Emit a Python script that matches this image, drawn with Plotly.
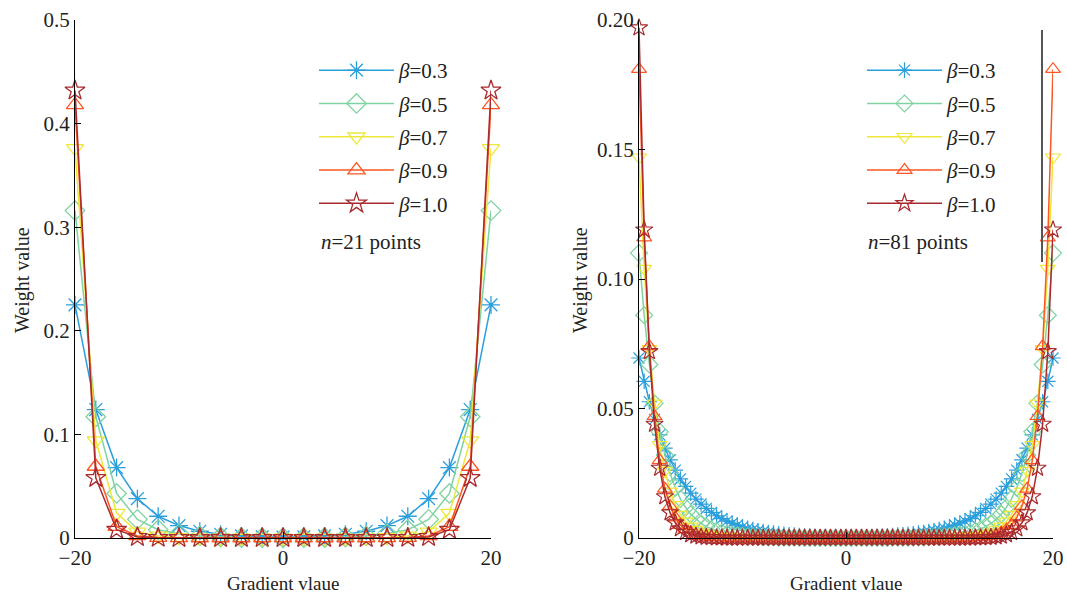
import plotly.graph_objects as go

W, H = 1067, 594

betas = ["0.3", "0.5", "0.7", "0.9", "1.0"]
colors = ["#2a9fdc", "#7fd3a0", "#ece83a", "#ff5522", "#a82a2e"]
symbols = ["asterisk-open", "diamond-open", "triangle-down-open", "triangle-up-open", "star-open"]

# ---- left panel: n = 21 points ----
x21 = [-20, -18, -16, -14, -12, -10, -8, -6, -4, -2, 0, 2, 4, 6, 8, 10, 12, 14, 16, 18, 20]
w21_03 = [0.225, 0.124, 0.068, 0.038, 0.021, 0.012, 0.0065, 0.0036, 0.002, 0.0011, 0.0008,
          0.0011, 0.002, 0.0036, 0.0065, 0.012, 0.021, 0.038, 0.068, 0.124, 0.225]
w21_05 = [0.316, 0.117, 0.043, 0.018, 0.008, 0.004, 0.002, 0.001, 0.0005, 0.0003, 0.0002,
          0.0003, 0.0005, 0.001, 0.002, 0.004, 0.008, 0.018, 0.043, 0.117, 0.316]
w21_07 = [0.376, 0.094, 0.024, 0.006, 0.002, 0.0006, 0.0002, 0.0001, 0.0, 0.0, 0.0,
          0.0, 0.0, 0.0001, 0.0002, 0.0006, 0.002, 0.006, 0.024, 0.094, 0.376]
w21_09 = [0.418, 0.069, 0.011, 0.002, 0.0004, 0.0001, 0.0, 0.0, 0.0, 0.0, 0.0,
          0.0, 0.0, 0.0, 0.0, 0.0001, 0.0004, 0.002, 0.011, 0.069, 0.418]
w21_10 = [0.432, 0.058, 0.008, 0.001, 0.0002, 0.0, 0.0, 0.0, 0.0, 0.0, 0.0,
          0.0, 0.0, 0.0, 0.0, 0.0, 0.0002, 0.001, 0.008, 0.058, 0.432]

# ---- right panel: n = 81 points ----
x81 = [-20.0, -19.5, -19.0, -18.5, -18.0, -17.5, -17.0, -16.5, -16.0, -15.5,
       -15.0, -14.5, -14.0, -13.5, -13.0, -12.5, -12.0, -11.5, -11.0, -10.5,
       -10.0, -9.5, -9.0, -8.5, -8.0, -7.5, -7.0, -6.5, -6.0, -5.5,
       -5.0, -4.5, -4.0, -3.5, -3.0, -2.5, -2.0, -1.5, -1.0, -0.5,
       0.0,
       0.5, 1.0, 1.5, 2.0, 2.5, 3.0, 3.5, 4.0, 4.5, 5.0,
       5.5, 6.0, 6.5, 7.0, 7.5, 8.0, 8.5, 9.0, 9.5, 10.0,
       10.5, 11.0, 11.5, 12.0, 12.5, 13.0, 13.5, 14.0, 14.5, 15.0,
       15.5, 16.0, 16.5, 17.0, 17.5, 18.0, 18.5, 19.0, 19.5, 20.0]
w81_03 = [0.0695, 0.0605, 0.0526, 0.0458, 0.0398, 0.0347, 0.0302, 0.0262, 0.0228, 0.0199,
          0.0173, 0.0150, 0.0131, 0.0114, 0.0099, 0.0086, 0.0075, 0.0065, 0.0057, 0.0050,
          0.0043, 0.0037, 0.0033, 0.0028, 0.0025, 0.0021, 0.0019, 0.0016, 0.0014, 0.0012,
          0.0011, 0.0009, 0.0008, 0.0007, 0.0006, 0.0005, 0.0005, 0.0004, 0.0004, 0.0003,
          0.0003,
          0.0003, 0.0004, 0.0004, 0.0005, 0.0005, 0.0006, 0.0007, 0.0008, 0.0009, 0.0011,
          0.0012, 0.0014, 0.0016, 0.0019, 0.0021, 0.0025, 0.0028, 0.0033, 0.0037, 0.0043,
          0.0050, 0.0057, 0.0065, 0.0075, 0.0086, 0.0099, 0.0114, 0.0131, 0.0150, 0.0173,
          0.0199, 0.0228, 0.0262, 0.0302, 0.0347, 0.0398, 0.0458, 0.0526, 0.0605, 0.0695]
w81_05 = [0.110, 0.086, 0.067, 0.052, 0.041, 0.032, 0.025, 0.0194, 0.0151, 0.0118,
          0.0092, 0.0072, 0.0056, 0.0044, 0.0034, 0.0027, 0.0021, 0.0016, 0.0013, 0.0010,
          0.0008, 0.0006, 0.0005, 0.0004, 0.0003, 0.0002, 0.0002, 0.0001, 0.0001, 0.0001,
          0.0001, 0.0001, 0.0, 0.0, 0.0, 0.0, 0.0, 0.0, 0.0, 0.0,
          0.0,
          0.0, 0.0, 0.0, 0.0, 0.0, 0.0, 0.0, 0.0, 0.0001, 0.0001,
          0.0001, 0.0001, 0.0001, 0.0002, 0.0002, 0.0003, 0.0004, 0.0005, 0.0006, 0.0008,
          0.0010, 0.0013, 0.0016, 0.0021, 0.0027, 0.0034, 0.0044, 0.0056, 0.0072, 0.0092,
          0.0118, 0.0151, 0.0194, 0.025, 0.032, 0.041, 0.052, 0.067, 0.086, 0.110]
w81_07 = [0.147, 0.104, 0.073, 0.052, 0.036, 0.026, 0.018, 0.0128, 0.0090, 0.0064,
          0.0045, 0.0032, 0.0022, 0.0016, 0.0011, 0.0008, 0.0006, 0.0004, 0.0003, 0.0002,
          0.0001, 0.0001, 0.0001, 0.0, 0.0, 0.0, 0.0, 0.0, 0.0, 0.0,
          0.0, 0.0, 0.0, 0.0, 0.0, 0.0, 0.0, 0.0, 0.0, 0.0,
          0.0,
          0.0, 0.0, 0.0, 0.0, 0.0, 0.0, 0.0, 0.0, 0.0, 0.0,
          0.0, 0.0, 0.0, 0.0, 0.0, 0.0, 0.0, 0.0001, 0.0001, 0.0001,
          0.0002, 0.0003, 0.0004, 0.0006, 0.0008, 0.0011, 0.0016, 0.0022, 0.0032, 0.0045,
          0.0064, 0.0090, 0.0128, 0.018, 0.026, 0.036, 0.052, 0.073, 0.104, 0.147]
w81_09 = [0.181, 0.116, 0.074, 0.047, 0.030, 0.019, 0.0123, 0.0079, 0.0050, 0.0032,
          0.0021, 0.0013, 0.0008, 0.0005, 0.0003, 0.0002, 0.0001, 0.0001, 0.0, 0.0,
          0.0, 0.0, 0.0, 0.0, 0.0, 0.0, 0.0, 0.0, 0.0, 0.0,
          0.0, 0.0, 0.0, 0.0, 0.0, 0.0, 0.0, 0.0, 0.0, 0.0,
          0.0,
          0.0, 0.0, 0.0, 0.0, 0.0, 0.0, 0.0, 0.0, 0.0, 0.0,
          0.0, 0.0, 0.0, 0.0, 0.0, 0.0, 0.0, 0.0, 0.0, 0.0,
          0.0, 0.0, 0.0001, 0.0001, 0.0002, 0.0003, 0.0005, 0.0008, 0.0013, 0.0021,
          0.0032, 0.0050, 0.0079, 0.0123, 0.019, 0.030, 0.047, 0.074, 0.116, 0.181]
w81_10 = [0.197, 0.119, 0.072, 0.044, 0.027, 0.016, 0.0098, 0.0059, 0.0036, 0.0022,
          0.0013, 0.0008, 0.0005, 0.0003, 0.0002, 0.0001, 0.0001, 0.0, 0.0, 0.0,
          0.0, 0.0, 0.0, 0.0, 0.0, 0.0, 0.0, 0.0, 0.0, 0.0,
          0.0, 0.0, 0.0, 0.0, 0.0, 0.0, 0.0, 0.0, 0.0, 0.0,
          0.0,
          0.0, 0.0, 0.0, 0.0, 0.0, 0.0, 0.0, 0.0, 0.0, 0.0,
          0.0, 0.0, 0.0, 0.0, 0.0, 0.0, 0.0, 0.0, 0.0, 0.0,
          0.0, 0.0, 0.0, 0.0, 0.0001, 0.0001, 0.0002, 0.0003, 0.0005, 0.0008,
          0.0013, 0.0022, 0.0036, 0.0059, 0.0098, 0.016, 0.027, 0.044, 0.072, 0.119, 0.197]

left_series = [w21_03, w21_05, w21_07, w21_09, w21_10]
right_series = [w81_03, w81_05, w81_07, w81_09, w81_10]

FONT = "'Liberation Serif', 'Times New Roman', serif"

fig = go.Figure()
for i, b in enumerate(betas):
    fig.add_trace(go.Scatter(
        x=x21, y=left_series[i], mode="lines+markers", name=f"<i>β</i>={b}",
        line=dict(color=colors[i], width=1.5), cliponaxis=False,
        marker=dict(symbol=symbols[i], size=15, color=colors[i], line=dict(width=1.3)),
        xaxis="x", yaxis="y", legend="legend", legendgroup=f"L{i}",
    ))
for i, b in enumerate(betas):
    fig.add_trace(go.Scatter(
        x=x81, y=right_series[i], mode="lines+markers", name=f"<i>β</i>={b}",
        line=dict(color=colors[i], width=1.5), cliponaxis=False,
        marker=dict(symbol=symbols[i], size=13, color=colors[i], line=dict(width=1.2)),
        xaxis="x2", yaxis="y2", legend="legend2", legendgroup=f"R{i}",
    ))

def px(xp):
    return xp / W

def py(yp):
    return 1 - yp / H

axis_common = dict(
    showline=True, linecolor="black", linewidth=1.2, mirror=False,
    ticks="inside", ticklen=6, tickcolor="black", tickwidth=1.2,
    showgrid=False, zeroline=False, automargin=False,
    tickfont=dict(family=FONT, size=21, color="#222"),
)

legend_common = dict(
    font=dict(family=FONT, size=21, color="#222"),
    bgcolor="rgba(0,0,0,0)", borderwidth=0,
    itemwidth=75, tracegroupgap=3, xanchor="left", yanchor="top",
)

fig.update_layout(
    template="none",
    width=W, height=H,
    margin=dict(l=0, r=0, t=0, b=0, autoexpand=False),
    paper_bgcolor="white", plot_bgcolor="white",
    showlegend=True,
    xaxis=dict(domain=[px(75), px(491)], range=[-20, 20], anchor="y", ticklabelstandoff=1,
               tickvals=[-20, 0, 20], ticktext=["−20", "0", "20"], **axis_common),
    yaxis=dict(domain=[py(538), py(20)], range=[0, 0.5], anchor="x",
               tickvals=[0, 0.1, 0.2, 0.3, 0.4, 0.5],
               ticktext=["0", "0.1", "0.2", "0.3", "0.4", "0.5"], **axis_common),
    xaxis2=dict(domain=[px(639), px(1053)], range=[-20, 20], anchor="y2", ticklabelstandoff=1,
                tickvals=[-20, 0, 20], ticktext=["−20", "0", "20"], **axis_common),
    yaxis2=dict(domain=[py(538), py(20)], range=[0, 0.2], anchor="x2",
                tickvals=[0, 0.05, 0.10, 0.15, 0.20],
                ticktext=["0", "0.05", "0.10", "0.15", "0.20"], **axis_common),
    legend=dict(x=px(314), y=py(50), **legend_common),
    legend2=dict(x=px(862), y=py(50), **legend_common),
)

annots = [
    dict(text="<i>n</i>=21 points", x=px(319), y=py(242), xanchor="left", yanchor="middle", size=21),
    dict(text="<i>n</i>=81 points", x=px(866), y=py(242), xanchor="left", yanchor="middle", size=21),
    dict(text="Gradient vlaue", x=px(283), y=py(583), xanchor="center", yanchor="middle", size=19),
    dict(text="Gradient vlaue", x=px(846), y=py(583), xanchor="center", yanchor="middle", size=19),
    dict(text="Weight value", x=px(22), y=py(280), xanchor="center", yanchor="middle", textangle=-90, size=20),
    dict(text="Weight value", x=px(580), y=py(280), xanchor="center", yanchor="middle", textangle=-90, size=20),
]
for a in annots:
    sz = a.pop("size")
    fig.add_annotation(xref="paper", yref="paper", showarrow=False,
                       font=dict(family=FONT, size=sz, color="#222"), **a)

# stray vertical rule present in the original figure
fig.add_shape(type="line", xref="paper", yref="paper",
              x0=px(1042), x1=px(1042), y0=py(262), y1=py(30),
              line=dict(color="#555555", width=2))

fig.write_html("out.html")
